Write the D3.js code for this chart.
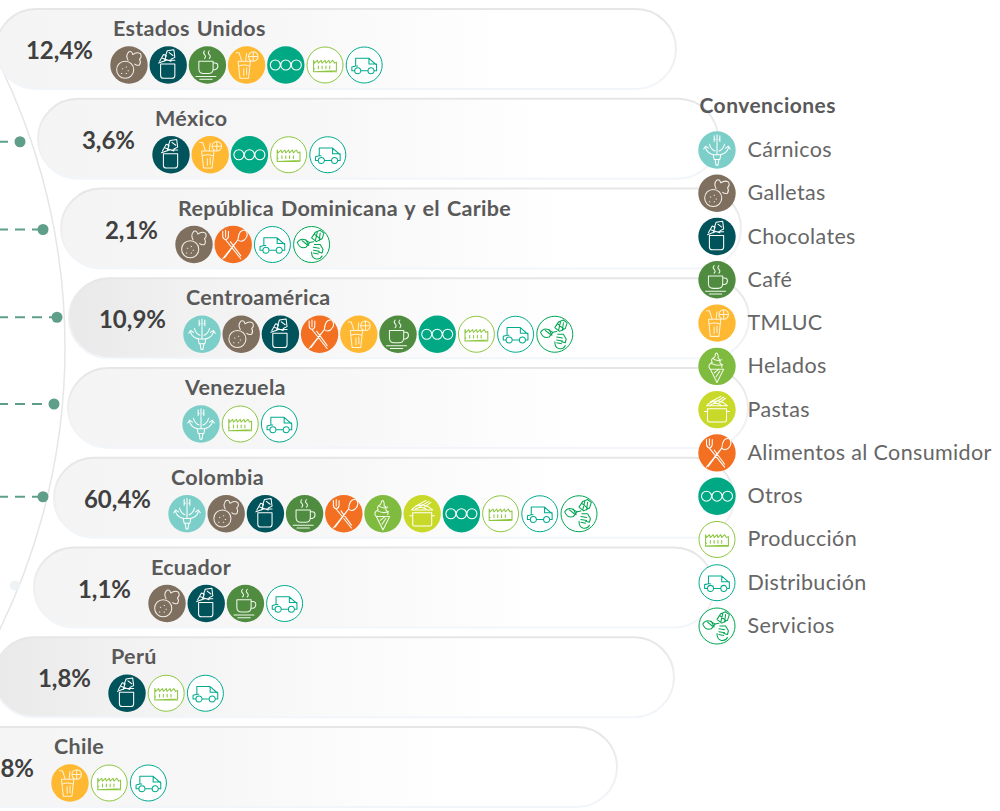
<!doctype html>
<html>
<head>
  <meta charset="utf-8">
  <title>Convenciones</title>
  <script src="https://d3js.org/d3.v7.min.js"></script>
  <style>
    body { margin: 0; padding: 0; background: #fff; }
    svg { display: block; }
    text { font-family: Lato, "Open Sans", sans-serif; }
    .country { font-size: 21.5px; font-weight: 700; fill: #595959; letter-spacing: 0.3px; word-spacing: 1.5px; }
    .share { font-size: 24px; font-weight: 700; fill: #404040; }
    .legend-title { font-size: 21px; font-weight: 700; fill: #595959; letter-spacing: 0.45px; }
    .legend-label { font-size: 21.5px; fill: #666; letter-spacing: 0.35px; }
    .glyph { fill: none; stroke-width: 1.1; stroke-linecap: round; stroke-linejoin: round; }
  </style>
</head>
<body>
  <div id="container"></div>
  <script>
  // data
  var countries = ["Estados Unidos", "México", "República Dominicana y el Caribe", "Centroamérica", "Venezuela", "Colombia", "Ecuador", "Perú", "Chile"]
  var shares = [12.4, 3.6, 2.1, 10.9, null, 60.4, 1.1, 1.8, 0.8]
  var categories = ["Cárnicos", "Galletas", "Chocolates", "Café", "TMLUC", "Helados", "Pastas", "Alimentos al Consumidor", "Otros", "Producción", "Distribución", "Servicios"]
  var usa = ["Galletas", "Chocolates", "Café", "TMLUC", "Otros", "Producción", "Distribución"]
  var mexico = ["Chocolates", "TMLUC", "Otros", "Producción", "Distribución"]
  var caribe = ["Galletas", "Alimentos al Consumidor", "Distribución", "Servicios"]
  var centro = ["Cárnicos", "Galletas", "Chocolates", "Alimentos al Consumidor", "TMLUC", "Café", "Otros", "Producción", "Distribución", "Servicios"]
  var venezuela = ["Cárnicos", "Producción", "Distribución"]
  var colombia = ["Cárnicos", "Galletas", "Chocolates", "Café", "Alimentos al Consumidor", "Helados", "Pastas", "Otros", "Producción", "Distribución", "Servicios"]
  var ecuador = ["Galletas", "Chocolates", "Café", "Distribución"]
  var peru = ["Chocolates", "Producción", "Distribución"]
  var chile = ["TMLUC", "Producción", "Distribución"]
  var rows = [usa, mexico, caribe, centro, venezuela, colombia, ecuador, peru, chile]

  // layout
  var width = 1000, height = 811
  var pillWidth = 680, pillHeight = 80
  var rowLeft = [-4, 38, 61, 69, 68, 54, 34, -6, -63]
  var rowShade = [0, 0, 0, 1, 0, 0, 0, 1, 0]
  var dotX = [null, 20, 43, 57, 54, 43, 15, null, null]
  var dotShift = [0, 3, 1, -1, -4, -1, -2, 0, 0]
  var fills = ["#7ccfc9", "#7f6f5f", "#00535a", "#4f8c3f", "#ffb831", "#7fbb3f", "#c9d92a", "#f36f21", "#00a983", "#fff", "#fff", "#fff"]
  var inks = ["#fff", "#f3efe8", "#fff", "#f2f7ee", "#fff3d6", "#f2f8e8", "#fff", "#fff", "#fff", "#8cc63f", "#00ab8e", "#00a651"]

  // line art for each category, drawn around 0,0
  var glyphs = [
    "M-3-15v6M0-16v7M3-15v6M-3-12l1 1M3-12l-1 1M-12-2q2 6 9 7M12-2q-2 6-9 7M-14-1l2-3 3 2M14-1l-2-3-3 2M-8-6q2 6 6 7M8-6q-2 6-6 7M0-8v12M-4 5h8l-1 5h-6zM-2 10l1 6h2l1-6",
    "M-13 5a9 9 0 1 0 18 0a9 9 0 1 0-18 0M-1-5q-3-5 1-9 3-1 4 3 4-3 8-1 2 4-1 6 2 3 0 6-3 1-5-1M-7 4h.4M-3 9h.4M-8 9h.4M-3 2h.4M-1 6h.4",
    "M-8-1h15v12q0 3-3 3h-9q-3 0-3-3zM-10-2l8-3 9 0M-9-4l4-7 3 1-2 6M-3-9l2-6 7-1 1 8-4 2M1-13l4 3M-6-7l9 3",
    "M-3-15q-2 2 0 4t0 4M2-15q-2 2 0 4t0 4M-9-4h15v8q0 5-5 5h-5q-5 0-5-5zM6-2h2q3 0 3 3t-3 4h-2M-12 12h21M-8 15h13",
    "M-9-4l2 18h9l2-18zM-8 1q5-2 11 0M-5-4l-3-9h-3M-1-4l1-8M-3 4v7M0 3v7M2-9a5 5 0 1 0 10 0a5 5 0 1 0-10 0M7-14v10M2-9h10",
    "M-7 3l7 14 7-14zM-7 3q-3-3 0-6 2-1 2-1-2-3 1-5 2-1 2-2 0-3 2-3 2 3 1 5 3 2 2 5 3 2 2 5M-6-3q6 3 12 1M-4-8q4 3 9 1M-3 7l5-4M-1 11l4-6",
    "M-10 -1h20v12q0 2-2 2h-16q-2 0-2-2zM-10 2h-3M10 2h3M-11-4q5-6 13-5 5 1 9 5zM-7-8l11-6M-3-7l10-6M1-6l8-6M-7-5q6-3 11 0",
    "M-11-14v5q0 3 3 4l16 20M-8-15v7M-5-14v5q0 3-3 4M-3-3l11 15M13-15q4 5-1 10-4 3-7 0l-16 20M12-15q-6-1-7 10M5-5l-14 19",
    "M-15.5 0a5 5 0 1 0 10 0a5 5 0 1 0-10 0M-5 0a5 5 0 1 0 10 0a5 5 0 1 0-10 0M5.5 0a5 5 0 1 0 10 0a5 5 0 1 0-10 0",
    "M-12 7v-12l1 3 3-3 1 3 3-3 1 3 3-3 1 3 3-3 1 3 3-3 2 3 2-1v9zM-12 7h24M-7 1v3M-3 1v3M1 1v3M5 1v3M-12 4h1",
    "M-13 6v-4l4-1v-8h14l8 7v6h-2M-13 6h3M4 6h-7M-9 1h2M5-7v6h8M-10 6a3.2 3.2 0 1 0 6.400 0a3.200 3.200 0 1 0-6.400 0M4 6a3.200 3.200 0 1 0 6.400 0a3.200 3.200 0 1 0-6.400 0",
    "M-15-2q3-5 8-3l5 3-4 5q-6 2-9-5M-10-4l5 4M-6-5l3 6M-2-2l4-1M0-7l4-6 5-2 4 3-2 6-6 3zM3-11l6 5M6-13l-2 9M9-12l-1 8M3 0l6 0 3 5-1 4-4-1M2 3l6 1M2 6l6 1M2 9l5 1M0 8q0 6 4 7 5 1 7-3"
  ]

  var viz = d3.select("#container").append("svg")
    .attr("width", width)
    .attr("height", height)
  var defs = viz.append("defs")
  function gradient(id, stops, vertical) {
    var g = defs.append("linearGradient").attr("id", id)
      .attr("x1", 0).attr("y1", 0).attr("x2", vertical ? 0 : 1).attr("y2", vertical ? 1 : 0)
    stops.forEach(function(s) {
      g.append("stop").attr("offset", s[0]).attr("stop-color", s[1])
    })
  }
  gradient("soft", [[0, "#f4f4f4"], [0.4, "#f7f7f8"], [0.75, "#fff"]])
  gradient("dark", [[0, "#e9e9e9"], [0.2, "#f2f2f2"], [0.5, "#fafafa"], [0.75, "#fff"]])
  gradient("edge", [[0, "#e6e6e6"], [0.5, "#eeeeee"], [1, "#f2f6fb"]], true)

  var yRow = d3.scalePoint().domain(countries).range([49, 767])
  var xIcon = d3.scaleLinear().domain([0, 1]).range([0, 39.2])
  var yLegend = d3.scalePoint().domain(categories).range([150, 626])

  // ring behind the rows
  var ring = d3.path()
  ring.arc(-579, 347, 644, -Math.PI / 6, Math.PI / 6)
  viz.append("path").attr("d", ring.toString())
    .attr("fill", "none").attr("stroke", "#e6e6e6").attr("stroke-width", 1.5)

  function drawIcon(parent, name, cx, cy) {
    var i = categories.indexOf(name)
    var g = parent.append("g").attr("transform", "translate(" + cx + "," + cy + ")")
    g.append("circle").attr("r", i > 8 ? 18 : 18.7)
      .attr("fill", fills[i])
      .attr("stroke", i > 8 ? inks[i] : "none")
      .attr("stroke-width", 1)
    g.append("path").attr("class", "glyph")
      .attr("d", glyphs[i])
      .attr("stroke", inks[i])
      .attr("stroke-width", i == 8 ? 1.7 : null)
      .attr("transform", i == 8 ? null : "scale(0.95)")
  }

  countries.forEach(function(name, i) {
    var mid = yRow(name), left = rowLeft[i], top = mid - pillHeight / 2
    var row = viz.append("g").attr("class", "row")

    // dashed connector coming in from the left, where its dot is on the page
    if (dotX[i] !== null) {
      var dy = mid + dotShift[i]
      if (i == 6) {
        row.append("circle").attr("cx", dotX[i]).attr("cy", dy).attr("r", 5).attr("fill", "#eef3f6")
      } else {
        row.append("line").attr("x1", -2).attr("x2", dotX[i]).attr("y1", dy).attr("y2", dy)
          .attr("stroke", "#5f9e88").attr("stroke-width", 2).attr("stroke-dasharray", "10 7")
        row.append("circle").attr("cx", dotX[i]).attr("cy", dy).attr("r", 5.5).attr("fill", "#5f9e88")
      }
    }

    row.append("rect")
      .attr("x", left).attr("y", top)
      .attr("width", pillWidth).attr("height", pillHeight)
      .attr("rx", pillHeight / 2)
      .attr("fill", rowShade[i] ? "url(#dark)" : "url(#soft)")
      .attr("stroke", "url(#edge)").attr("stroke-width", 2)

    row.append("text").attr("class", "country")
      .attr("x", left + 117).attr("y", top + 27)
      .text(name)

    if (shares[i] !== null) {
      row.append("text").attr("class", "share")
        .attr("x", left + 97).attr("y", top + 50)
        .attr("text-anchor", "end")
        .text(shares[i].toFixed(1).replace(".", ",") + "%")
    }

    rows[i].forEach(function(cat, j) {
      drawIcon(row, cat, left + 133 + xIcon(j), top + 56)
    })
  })

  // legend
  var legend = viz.append("g").attr("class", "legend")
  legend.append("text").attr("class", "legend-title").attr("x", 699.5).attr("y", 113).text("Convenciones")
  categories.forEach(function(name) {
    drawIcon(legend, name, 717, yLegend(name))
    legend.append("text").attr("class", "legend-label")
      .attr("x", 747.5).attr("y", yLegend(name) + 7)
      .text(name)
  })
  </script>
</body>
</html>
